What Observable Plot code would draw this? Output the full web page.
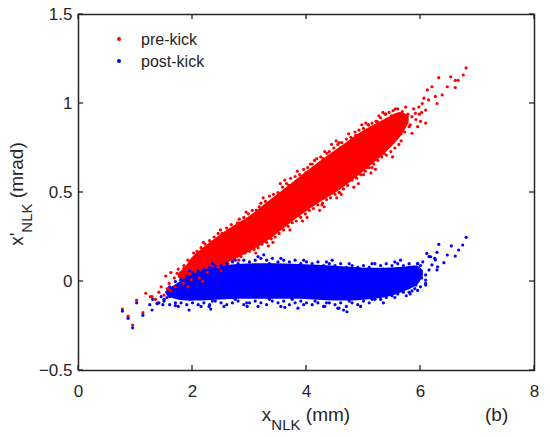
<!DOCTYPE html>
<html><head><meta charset="utf-8">
<script src="https://cdn.jsdelivr.net/npm/d3@7"></script>
<script src="https://cdn.jsdelivr.net/npm/@observablehq/plot@0.6"></script>
<style>body{margin:0;background:#fff;} #chart svg{display:block;}</style>
</head><body><div id="chart"></div>
<script>
const xTicks = [0, 2, 4, 6, 8];
const yTicks = [-0.5, 0, 0.5, 1, 1.5];
const seriesNames = ["pre-kick", "post-kick"];

// dense core of the pre-kick cloud
const preCoreX  = [1.75, 1.9, 2.0, 2.3, 2.6, 3.0, 3.4, 3.8, 4.2, 4.6, 5.0, 5.4, 5.65, 5.8];
const preCoreHi = [0.04, 0.09, 0.135, 0.215, 0.285, 0.365, 0.465, 0.565, 0.665, 0.755, 0.845, 0.915, 0.95, 0.93];
const preCoreLo = [0.02, 0.00, 0.00, 0.05, 0.10, 0.165, 0.245, 0.345, 0.435, 0.515, 0.615, 0.725, 0.81, 0.89];

// dense core of the post-kick cloud
const postCoreX  = [1.55, 1.7, 1.9, 2.1, 2.4, 2.8, 3.3, 3.9, 4.5, 5.0, 5.4, 5.7, 5.95, 6.05];
const postCoreHi = [-0.05, -0.02, 0.02, 0.05, 0.08, 0.095, 0.10, 0.095, 0.085, 0.075, 0.075, 0.08, 0.085, 0.06];
const postCoreLo = [-0.08, -0.10, -0.11, -0.11, -0.105, -0.10, -0.10, -0.10, -0.11, -0.105, -0.09, -0.06, -0.02, 0.03];

// individual pre-kick points (edges, sparse regions, tail)
const prePoints = [
[0.77,-0.155],[0.87,-0.195],[0.95,-0.245],[1.02,-0.105],[1.13,-0.175],[1.18,-0.066],[1.29,-0.085],[1.35,-0.10],[1.38,-0.122],[1.50,-0.076],[1.53,0.031],[1.59,-0.01],[1.64,-0.057],[1.73,0.046],[1.79,0.008],[1.85,0.074],[1.88,0.037],[1.96,0.10],[1.99,0.065],[2.08,0.149],[1.45,-0.03],[1.68,0.02],[1.62,0.05],[1.75,0.07],[1.82,0.05],[1.56,-0.04],[1.41,-0.06],[1.26,-0.085],
[1.7,-0.03],[1.84,-0.01],[1.98,0.01],[2.12,0.02],[2.26,0.05],[1.6,-0.05],[1.92,-0.03],[2.18,0.0],
[1.85,0.09],[1.92,0.12],[2.02,0.16],[2.08,0.17],[2.15,0.19],[2.22,0.21],[2.3,0.23],[2.38,0.25],[2.45,0.27],[2.52,0.27],[2.6,0.30],[2.68,0.32],[2.75,0.31],[2.82,0.35],[2.9,0.36],[2.98,0.38],[3.05,0.40],[3.12,0.40],[3.2,0.44],[3.28,0.45],[3.35,0.48],[3.42,0.49],[3.5,0.50],[3.58,0.53],[3.65,0.55],[3.72,0.58],[3.8,0.59],[3.88,0.60],[3.95,0.63],[4.02,0.64],[4.1,0.66],[4.18,0.69],[4.25,0.70],[4.32,0.73],[4.4,0.73],[4.48,0.75],[4.55,0.77],[4.62,0.78],[4.7,0.80],[4.78,0.81],[4.85,0.84],[4.92,0.85],[5.0,0.86],[5.08,0.88],[5.15,0.89],[5.22,0.90],[5.3,0.92],[5.38,0.94],[5.45,0.95],[5.52,0.96],[5.6,0.97],
[2.05,0.14],[2.19,0.22],[2.34,0.21],[2.49,0.29],[2.64,0.28],[2.79,0.33],[2.94,0.39],[3.09,0.37],[3.24,0.47],[3.39,0.45],[3.54,0.55],[3.69,0.54],[3.84,0.62],[3.99,0.61],[4.14,0.68],[4.29,0.69],[4.44,0.77],[4.59,0.75],[4.74,0.83],[4.89,0.82],[5.04,0.89],[5.19,0.87],[5.34,0.95],[5.49,0.93],[3.17,0.42],[3.62,0.57],[4.07,0.66],[4.52,0.79],[4.97,0.88],[5.27,0.93],
[2.45,0.08],[2.55,0.10],[2.62,0.10],[2.7,0.12],[2.78,0.14],[2.85,0.14],[2.92,0.16],[3.0,0.17],[3.08,0.18],[3.15,0.19],[3.22,0.21],[3.3,0.22],[3.38,0.24],[3.45,0.25],[3.52,0.27],[3.6,0.29],[3.68,0.31],[3.75,0.33],[3.82,0.34],[3.9,0.36],[3.98,0.38],[4.05,0.40],[4.12,0.41],[4.2,0.43],[4.28,0.44],[4.35,0.46],[4.42,0.47],[4.5,0.49],[4.58,0.50],[4.65,0.52],[4.72,0.54],[4.8,0.57],[4.88,0.58],[4.95,0.60],[5.03,0.62],[5.1,0.64],[5.18,0.66],[5.25,0.68],[5.32,0.70],[5.4,0.71],[5.48,0.73],[5.55,0.75],[5.62,0.77],
[2.5,0.06],[2.66,0.13],[2.81,0.12],[2.96,0.18],[3.11,0.16],[3.26,0.23],[3.41,0.22],[3.56,0.30],[3.71,0.29],[3.86,0.37],[4.01,0.36],[4.16,0.44],[4.31,0.42],[4.46,0.50],[4.61,0.49],[4.76,0.57],[4.91,0.55],[5.06,0.64],[5.21,0.63],[5.36,0.72],[5.51,0.70],[5.66,0.79],[3.33,0.20],[3.93,0.34],[4.53,0.47],[5.13,0.61],[4.23,0.40],[4.83,0.53],
[4.57,0.50],[5.0,0.60],[4.86,0.59],[5.15,0.64],[4.27,0.43],[4.36,0.72],[4.57,0.78],[4.86,0.82],[5.09,0.88],[5.24,0.90],[5.39,0.94],[5.56,0.97],
[6.80,1.20],[6.66,1.13],[6.61,1.13],[6.75,1.16],[6.53,1.15],[6.32,1.145],[6.47,1.094],[6.61,1.09],[6.38,1.048],[6.29,1.0],[6.26,1.04],[6.12,1.076],[6.20,1.094],[6.14,1.02],[6.09,0.963],[6.09,0.89],[5.85,0.833],[6.03,1.0],[5.97,0.98],[5.80,0.87],[5.91,0.945],[5.85,0.926],[5.74,0.98],[5.68,0.954],[5.62,0.86],[5.68,0.90],[5.72,0.84],[5.78,0.94],[5.82,0.88],[5.88,0.97],[5.92,0.91],[5.98,0.94],[6.02,0.95],[5.95,0.87],[6.0,0.90],[6.06,1.03],[5.76,0.91],[5.66,0.83],[5.7,0.93]
];

// individual post-kick points
const postPoints = [
[0.77,-0.166],[0.87,-0.207],[0.95,-0.26],[1.02,-0.12],[1.13,-0.19],[1.25,-0.13],[1.29,-0.16],[1.30,-0.10],[1.38,-0.125],[1.41,-0.12],[1.45,-0.085],[1.50,-0.10],[1.55,-0.06],[1.60,-0.085],[1.65,-0.06],[1.94,-0.16],[2.29,-0.14],[2.32,-0.155],[1.7,-0.135],[1.48,-0.13],
[1.6,-0.03],[1.7,0.0],[1.8,0.01],[1.9,0.03],[2.0,0.05],[2.1,0.06],[2.2,0.07],[2.3,0.08],[2.4,0.09],[2.5,0.09],[2.6,0.10],[2.7,0.11],[2.8,0.10],[2.9,0.12],[3.0,0.11],[3.1,0.12],[3.2,0.13],[3.3,0.12],[3.4,0.13],[3.5,0.11],[3.6,0.12],[3.7,0.11],[3.8,0.12],[3.9,0.10],[4.0,0.11],[4.1,0.10],[4.2,0.11],[4.3,0.09],[4.4,0.10],[4.5,0.09],[4.6,0.10],[4.7,0.08],[4.8,0.09],[4.9,0.08],[5.0,0.09],[5.1,0.08],[5.2,0.10],[5.3,0.09],[5.4,0.10],[5.5,0.09],[5.6,0.10],[5.7,0.09],[5.8,0.10],[5.9,0.08],[6.0,0.09],
[1.75,-0.02],[1.95,0.06],[2.15,0.04],[2.35,0.10],[2.55,0.07],[2.75,0.12],[2.95,0.09],[3.15,0.14],[3.35,0.10],[3.55,0.13],[3.75,0.09],[3.95,0.12],[4.15,0.08],[4.35,0.11],[4.55,0.07],[4.75,0.10],[4.95,0.07],[5.15,0.10],[5.35,0.07],[5.55,0.11],[5.75,0.07],[5.95,0.10],[3.25,0.15],[4.45,0.12],[5.65,0.12],
[1.5,-0.11],[1.6,-0.13],[1.7,-0.12],[1.8,-0.12],[1.9,-0.13],[2.0,-0.12],[2.1,-0.13],[2.2,-0.12],[2.3,-0.13],[2.4,-0.11],[2.5,-0.12],[2.6,-0.13],[2.7,-0.12],[2.8,-0.11],[2.9,-0.13],[3.0,-0.12],[3.1,-0.11],[3.2,-0.12],[3.3,-0.13],[3.4,-0.11],[3.5,-0.12],[3.6,-0.11],[3.7,-0.13],[3.8,-0.12],[3.9,-0.11],[4.0,-0.12],[4.1,-0.13],[4.2,-0.12],[4.3,-0.14],[4.4,-0.12],[4.5,-0.13],[4.6,-0.12],[4.7,-0.14],[4.8,-0.12],[4.9,-0.13],[5.0,-0.11],[5.1,-0.12],[5.2,-0.10],[5.3,-0.10],[5.4,-0.09],[5.5,-0.08],[5.6,-0.07],[5.7,-0.06],[5.8,-0.06],[5.9,-0.04],
[1.55,-0.09],[1.75,-0.14],[1.95,-0.10],[2.15,-0.14],[2.35,-0.11],[2.55,-0.14],[2.75,-0.10],[2.95,-0.12],[3.15,-0.14],[3.35,-0.10],[3.55,-0.14],[3.75,-0.10],[3.95,-0.13],[4.15,-0.11],[4.35,-0.12],[4.55,-0.15],[4.75,-0.11],[4.95,-0.14],[5.15,-0.10],[5.35,-0.12],[5.55,-0.09],[5.75,-0.08],[5.95,-0.05],[4.65,-0.16],[3.85,-0.15],
[4.71,-0.17],[4.57,-0.15],[4.32,-0.14],[3.62,-0.145],[2.96,-0.14],
[6.80,0.248],[6.74,0.205],[6.67,0.177],[6.54,0.20],[6.47,0.149],[6.61,0.143],[6.32,0.209],[6.29,0.164],[6.41,0.106],[6.25,0.13],[6.11,0.158],[6.18,0.139],[6.30,0.083],[6.09,0.008],[6.09,-0.02],[5.85,-0.053],[6.15,0.065],[6.26,0.121],[6.20,0.093],[6.09,0.037],[6.09,-0.01],[6.29,0.065],[6.15,0.14],[6.04,0.11],[5.98,0.05],[6.02,0.02],[5.95,0.10],[5.92,-0.02],[6.0,-0.03],[5.88,0.06],[5.8,0.02],[5.75,-0.03],[5.82,-0.07]
];

const RED = "#ff0000", BLUE = "#0000ff", INK = "#262626";
const preCore = preCoreX.map((x, i) => ({x, lo: preCoreLo[i], hi: preCoreHi[i]}));
const postCore = postCoreX.map((x, i) => ({x, lo: postCoreLo[i], hi: postCoreHi[i]}));
const preData = prePoints.map(([x, y]) => ({x, y}));
const postData = postPoints.map(([x, y]) => ({x, y}));

const plot = Plot.plot({
  width: 550, height: 437,
  marginLeft: 78, marginRight: 16, marginTop: 14, marginBottom: 67,
  x: {domain: [0, 8]},
  y: {domain: [-0.5, 1.5]},
  style: {fontFamily: "'Liberation Sans', Arial, sans-serif", color: INK, background: "white"},
  marks: [
    Plot.areaY(preCore, {x: "x", y1: "lo", y2: "hi", fill: RED, curve: "catmull-rom"}),
    Plot.areaY(postCore, {x: "x", y1: "lo", y2: "hi", fill: BLUE, curve: "catmull-rom"}),
    Plot.dot(preData, {x: "x", y: "y", r: 1.6, fill: RED}),
    Plot.dot(postData, {x: "x", y: "y", r: 1.6, fill: BLUE}),
    Plot.axisX({ticks: xTicks, tickSize: 0, tickPadding: 14, fontSize: 17, label: null, tickFormat: d3.format("")}),
    Plot.axisY({ticks: yTicks, tickSize: 0, tickPadding: 6, fontSize: 17, label: null, tickFormat: d3.format("")}),
    Plot.frame({stroke: INK, strokeWidth: 1.5})
  ]
});

const svg = d3.select(plot);
const font = "'Liberation Sans', Arial, sans-serif";
const sx = plot.scale("x"), sy = plot.scale("y");
const X0 = 78, X1 = 534, Y0 = 14, Y1 = 370, TL = 5;
// inward tick marks on all four sides
const tg = svg.append("g").attr("stroke", INK).attr("stroke-width", 1.3);
xTicks.forEach(v => {
  const px = sx.apply(v);
  tg.append("line").attr("x1", px).attr("x2", px).attr("y1", Y1).attr("y2", Y1 - TL);
  tg.append("line").attr("x1", px).attr("x2", px).attr("y1", Y0).attr("y2", Y0 + TL);
});
yTicks.forEach(v => {
  const py = sy.apply(v);
  tg.append("line").attr("y1", py).attr("y2", py).attr("x1", X0).attr("x2", X0 + TL);
  tg.append("line").attr("y1", py).attr("y2", py).attr("x1", X1).attr("x2", X1 - TL);
});
// x axis label
const xl = svg.append("text").attr("x", 306).attr("y", 421).attr("text-anchor", "middle")
  .attr("fill", INK).style("font-family", font).style("font-size", "19px");
xl.append("tspan").text("x");
xl.append("tspan").attr("dy", 9).style("font-size", "15px").text("NLK");
xl.append("tspan").attr("dy", -9).text(" (mm)");
// y axis label
const yl = svg.append("text").attr("transform", "translate(23,194) rotate(-90)").attr("text-anchor", "middle")
  .attr("fill", INK).style("font-family", font).style("font-size", "19px");
yl.append("tspan").text("x'");
yl.append("tspan").attr("dy", 9).style("font-size", "15px").text("NLK");
yl.append("tspan").attr("dy", -9).text(" (mrad)");
// panel tag
svg.append("text").attr("x", 485).attr("y", 421).attr("fill", INK).attr("text-anchor", "start")
  .style("font-family", font).style("font-size", "19px").text("(b)");
// legend
const legendColors = [RED, BLUE];
seriesNames.forEach((name, i) => {
  const cy = 39 + i * 22;
  svg.append("circle").attr("cx", 119).attr("cy", cy).attr("r", 2).attr("fill", legendColors[i]);
  svg.append("text").attr("x", 141).attr("y", cy + 5.5).attr("fill", INK).attr("text-anchor", "start")
    .style("font-family", font).style("font-size", "16px").text(name);
});

document.getElementById("chart").appendChild(plot);
</script>
</body></html>
